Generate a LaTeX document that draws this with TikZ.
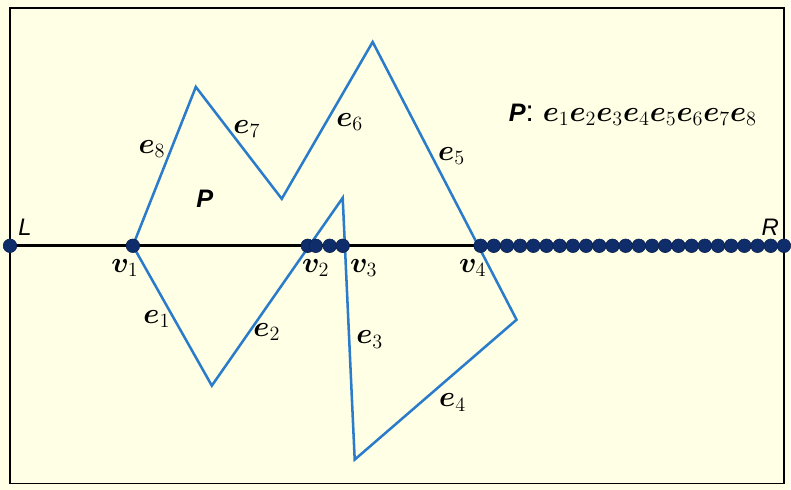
\documentclass[tikz,border=0pt]{standalone}
\usepackage{amsmath}
\usepackage{bm}
\usepackage{fontspec}
\setsansfont{Liberation Sans}
\usetikzlibrary{positioning}
\definecolor{palBlue}{HTML}{2A7CCB}
\definecolor{palNavy}{HTML}{0F2D6B}
\definecolor{palCream}{HTML}{FFFFE6}

\begin{document}
\begin{tikzpicture}[
  x=0.025cm, y=-0.025cm,
  font=\sffamily,
  frame/.style={draw=black, line width=1.3pt},
  axis/.style={draw=black, line width=2pt},
  poly/.style={draw=palBlue, line width=1.8pt, line join=miter},
  dot/.style={circle, fill=palNavy, draw=palNavy!70!black, line width=0.4pt, inner sep=0pt, minimum size=0.34cm},
  elabel/.style={font=\fontsize{21}{24}\selectfont, inner sep=0pt},
  vlabel/.style={font=\fontsize{21}{24}\selectfont, inner sep=0pt},
  side/.style={font=\sffamily\itshape\fontsize{17}{20}\selectfont, inner sep=0pt},
]
% background and frame
\fill[palCream] (0,0) rectangle (791,490);
\draw[frame] (10,8) rectangle (785,484);

% polygon corners
\coordinate (c1) at (133,246);
\coordinate (c2) at (212,386);
\coordinate (c3) at (343,198);
\coordinate (c4) at (355,460);
\coordinate (c5) at (517,320);
\coordinate (c6) at (373,42);
\coordinate (c7) at (282,199);
\coordinate (c8) at (196,87);
\draw[poly] (c1) -- (c2) -- (c3) -- (c4) -- (c5) -- (c6) -- (c7) -- (c8) -- cycle;

% the line L--R
\coordinate (lineL) at (10,246);
\coordinate (lineR) at (785,246);
\draw[axis] (lineL) -- (lineR);

% points on the line
\node[dot] (dotL) at (lineL) {};
\node[dot] (v1) at (c1) {};
\node[dot] (v2a) at (308,246) {};
\node[dot] (v2b) at (316,246) {};
\node[dot] (v2c) at (330,246) {};
\node[dot] (v3) at (343,246) {};
\node[dot] (v4) at (481,246) {};
\foreach \k in {1,...,23}
  \node[dot] (r\k) at (481+13.2*\k,246) {};

% labels
\node[side] (labL) at (25,227) {L};
\node[side] (labR) at (771,227) {R};
\node[vlabel] (labv1) at (125,268) {$\boldsymbol{v}_1$};
\node[vlabel] (labv2) at (316,268) {$\boldsymbol{v}_2$};
\node[vlabel] (labv3) at (364,268) {$\boldsymbol{v}_3$};
\node[vlabel] (labv4) at (473,268) {$\boldsymbol{v}_4$};

\node[elabel] (labe1) at (157,319) {$\boldsymbol{e}_1$};
\node[elabel] (labe2) at (267,332) {$\boldsymbol{e}_2$};
\node[elabel] (labe3) at (370,340) {$\boldsymbol{e}_3$};
\node[elabel] (labe4) at (453,403) {$\boldsymbol{e}_4$};
\node[elabel] (labe5) at (452,156) {$\boldsymbol{e}_5$};
\node[elabel] (labe6) at (350,122) {$\boldsymbol{e}_6$};
\node[elabel] (labe7) at (247,129) {$\boldsymbol{e}_7$};
\node[elabel] (labe8) at (152,149) {$\boldsymbol{e}_8$};

\node[font=\sffamily\bfseries\itshape\fontsize{18}{20}\selectfont, inner sep=0pt] (labP) at (205,199) {P};
\node[font=\fontsize{21}{24}\selectfont, inner sep=0pt, anchor=west] (seqP) at (509,115)
  {{\sffamily\bfseries\itshape\fontsize{18}{20}\selectfont P}{\sffamily:} $\boldsymbol{e}_1\boldsymbol{e}_2\boldsymbol{e}_3\boldsymbol{e}_4\boldsymbol{e}_5\boldsymbol{e}_6\boldsymbol{e}_7\boldsymbol{e}_8$};
\end{tikzpicture}
\end{document}
